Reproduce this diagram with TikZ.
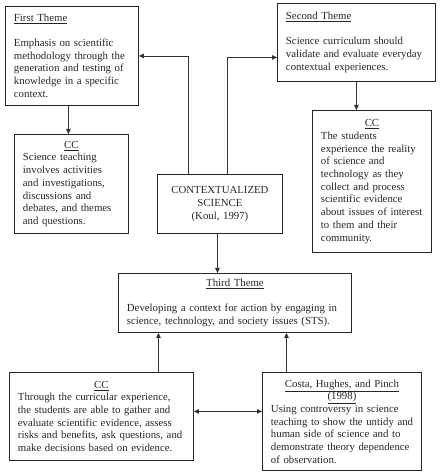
\documentclass[tikz,border=0pt]{standalone}
\usepackage{fontspec}
\setmainfont{Liberation Serif}
\usetikzlibrary{arrows.meta}
\begin{document}
\begin{tikzpicture}[x=1pt,y=1pt,
  box/.style={draw=black!85,line width=0.9pt,anchor=north west,inner xsep=8.5pt,inner ysep=2pt,
    align=left,font=\fontsize{10.8}{12.7}\selectfont,text=black!85},
  arr/.style={draw=black!80,line width=0.8pt,-{Triangle[length=5pt,width=4.5pt]}},
  darr/.style={draw=black!80,line width=0.8pt,{Triangle[length=5pt,width=4.5pt]}-{Triangle[length=5pt,width=4.5pt]}}]
\useasboundingbox (0,0) rectangle (439,473);
\newcommand{\ttl}[1]{\makebox[\linewidth]{\underline{#1}}}
\newcommand{\nb}[1]{\mbox{#1}}
% First Theme
\node[box,text width=116pt,minimum height=99pt] (FT) at (5,467)
  {\underline{First Theme}\\[12pt]\nb{Emphasis on scientific}\\\nb{methodology through the}\\\nb{generation and testing of}\\\nb{knowledge in a specific}\\context.};
% CC1
\node[box,text width=97pt,minimum height=99pt] (CC1) at (14,339)
  {\ttl{CC}\\\nb{Science teaching}\\\nb{involves activities}\\\nb{and investigations,}\\\nb{discussions and}\\\nb{debates, and themes}\\\nb{and questions.}};
% Second Theme
\node[box,text width=141pt,minimum height=78pt] (ST) at (277,470)
  {\underline{Second Theme}\\[12pt]\nb{Science curriculum should}\\\nb{validate and evaluate everyday}\\\nb{contextual experiences.}};
% CC2
\node[box,text width=102pt,minimum height=142pt] (CC2) at (312,363)
  {\ttl{CC}\\\nb{The students}\\\nb{experience the reality}\\\nb{of science and}\\\nb{technology as they}\\\nb{collect and process}\\\nb{scientific evidence}\\\nb{about issues of interest}\\\nb{to them and their}\\community.};
% Contextualized
\node[box,align=center,text width=108pt,minimum height=59pt] (CTX) at (157,299)
  {CONTEXTUALIZED\\SCIENCE\\(Koul, 1997)};
% Third Theme
\node[box,text width=216pt,minimum height=59pt] (TT) at (118,200)
  {\ttl{Third Theme}\\[12pt]\nb{Developing a context for action by engaging in}\\\nb{science, technology, and society issues (STS).}};
% CC3
\node[box,text width=167pt,minimum height=88pt] (CC3) at (9,101)
  {\ttl{CC}\\\nb{Through the curricular experience,}\\\nb{the students are able to gather and}\\\nb{evaluate scientific evidence, assess}\\\nb{risks and benefits, ask questions, and}\\\nb{make decisions based on evidence.}};
% Costa
\node[box,text width=142pt,minimum height=98pt] (CO) at (262,101)
  {\ttl{Costa, Hughes, and Pinch}\\\ttl{(1998)}\\\nb{Using controversy in science}\\\nb{teaching to show the untidy and}\\\nb{human side of science and to}\\\nb{demonstrate theory dependence}\\\nb{of observation.}};
% connectors
\draw[arr] ([xshift=-3.5pt]FT.south) -- ([xshift=-3.5pt]FT.south |- CC1.north);
\draw[arr] (ST.south) -- (ST.south |- CC2.north);
\draw[arr] ([xshift=-31.5pt]CTX.north) |- (FT.east);
\draw[arr] ([xshift=7.5pt]CTX.north) |- ([yshift=-15pt]ST.west);
\draw[arr] ([xshift=-2.5pt]CTX.south) -- ([xshift=-2.5pt]CTX.south |- TT.north);
\draw[arr] ([xshift=57pt]CC3.north) -- ([xshift=57pt]CC3.north |- TT.south);
\draw[arr] ([xshift=-55.5pt]CO.north) -- ([xshift=-55.5pt]CO.north |- TT.south);
\draw[darr] ([yshift=5pt]CC3.east) -- ([yshift=5pt]CC3.east -| CO.west);
\end{tikzpicture}
\end{document}
